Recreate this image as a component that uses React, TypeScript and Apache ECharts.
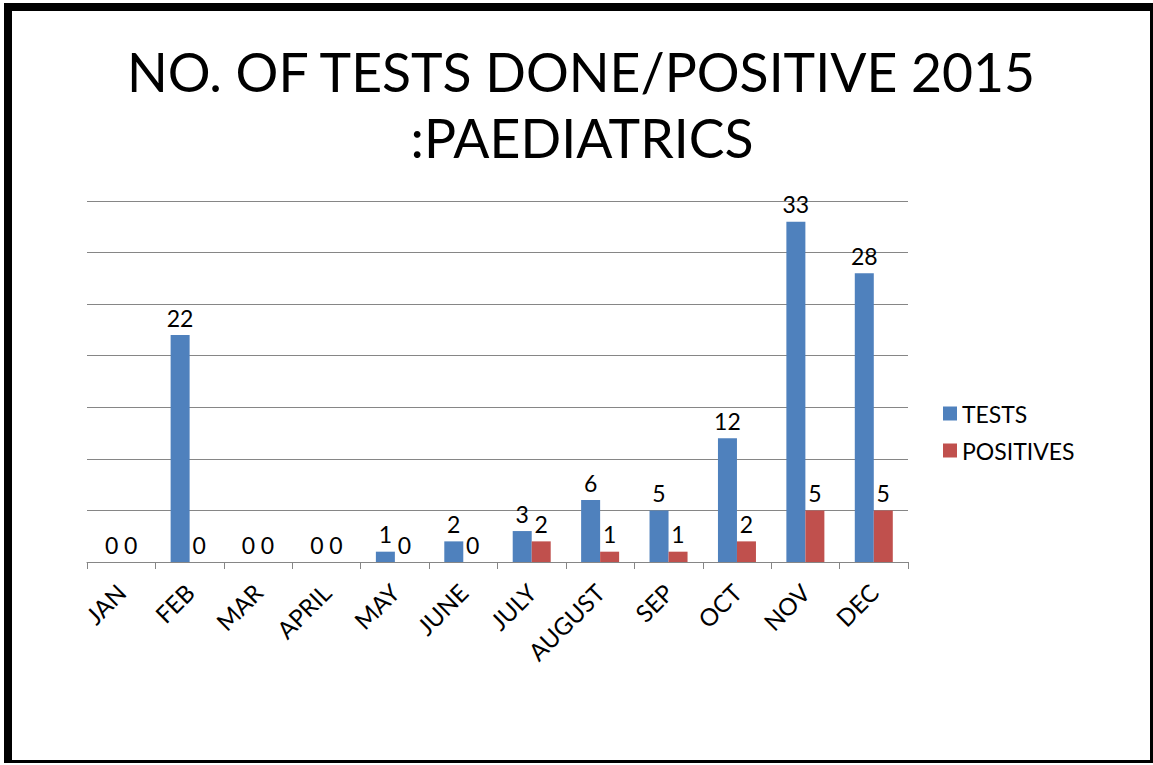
import React, { useEffect, useRef } from "react";
import * as echarts from "echarts";

const categories = ["JAN", "FEB", "MAR", "APRIL", "MAY", "JUNE", "JULY", "AUGUST", "SEP", "OCT", "NOV", "DEC"];
const tests = [0, 22, 0, 0, 1, 2, 3, 6, 5, 12, 33, 28];
const positives = [0, 0, 0, 0, 0, 0, 2, 1, 1, 2, 5, 5];
const titleLines = ["NO. OF TESTS DONE/POSITIVE 2015", ":PAEDIATRICS"];

const FONT = "Lato, 'Open Sans', sans-serif";

export default function App() {
  const ref = useRef<HTMLDivElement>(null);
  useEffect(() => {
    const chart = echarts.init(ref.current!, null, { renderer: "svg" });
    const labelCfg = {
      show: true,
      position: "top" as const,
      distance: 6,
      color: "#000",
      fontSize: 23,
      fontFamily: FONT,
    };
    chart.setOption({
      animation: false,
      backgroundColor: "#fff",
      textStyle: { fontFamily: FONT },
      graphic: [
        { type: "rect", shape: { x: 4, y: 3, width: 1149, height: 8 }, style: { fill: "#000" } },
        { type: "rect", shape: { x: 4, y: 3, width: 8, height: 760 }, style: { fill: "#000" } },
        { type: "rect", shape: { x: 1150, y: 3, width: 3, height: 760 }, style: { fill: "#000" } },
        { type: "rect", shape: { x: 4, y: 760, width: 1149, height: 3 }, style: { fill: "#000" } },
        {
          type: "text",
          x: 581,
          y: 71,
          style: { text: titleLines[0], fill: "#000", font: `53.5px ${FONT}`, textAlign: "center", textVerticalAlign: "middle" },
        },
        {
          type: "text",
          x: 582,
          y: 137,
          style: { text: titleLines[1], fill: "#000", font: `53.5px ${FONT}`, textAlign: "center", textVerticalAlign: "middle" },
        },
      ],
      legend: {
        orient: "vertical",
        left: 938,
        top: 397,
        itemWidth: 14,
        itemHeight: 14,
        itemGap: 14,
        icon: "rect",
        textStyle: { fontSize: 23, color: "#000", fontFamily: FONT },
        data: ["TESTS", "POSITIVES"],
      },
      grid: { left: 87, right: 245, top: 201, bottom: 203, containLabel: false },
      xAxis: {
        type: "category",
        data: categories,
        axisLine: { lineStyle: { color: "#868686", width: 1 } },
        axisTick: { show: true, length: 7, lineStyle: { color: "#868686" } },
        axisLabel: { rotate: 45, margin: 26, fontSize: 24, color: "#000", fontFamily: FONT },
      },
      yAxis: {
        type: "value",
        min: 0,
        max: 35,
        interval: 5,
        axisLine: { show: false },
        axisTick: { show: false },
        axisLabel: { show: false },
        splitLine: { lineStyle: { color: "#868686", width: 1 } },
      },
      series: [
        {
          name: "TESTS",
          type: "bar",
          data: tests,
          barWidth: 19,
          barGap: "0%",
          itemStyle: { color: "#4F81BD" },
          label: labelCfg,
        },
        {
          name: "POSITIVES",
          type: "bar",
          data: positives,
          barWidth: 19,
          barGap: "0%",
          itemStyle: { color: "#C0504D" },
          label: labelCfg,
        },
      ],
    });
    return () => chart.dispose();
  }, []);
  return (
    <div
      ref={ref}
      style={{ position: "fixed", top: 0, left: 0, width: 1153, height: 765, background: "#fff" }}
    />
  );
}
